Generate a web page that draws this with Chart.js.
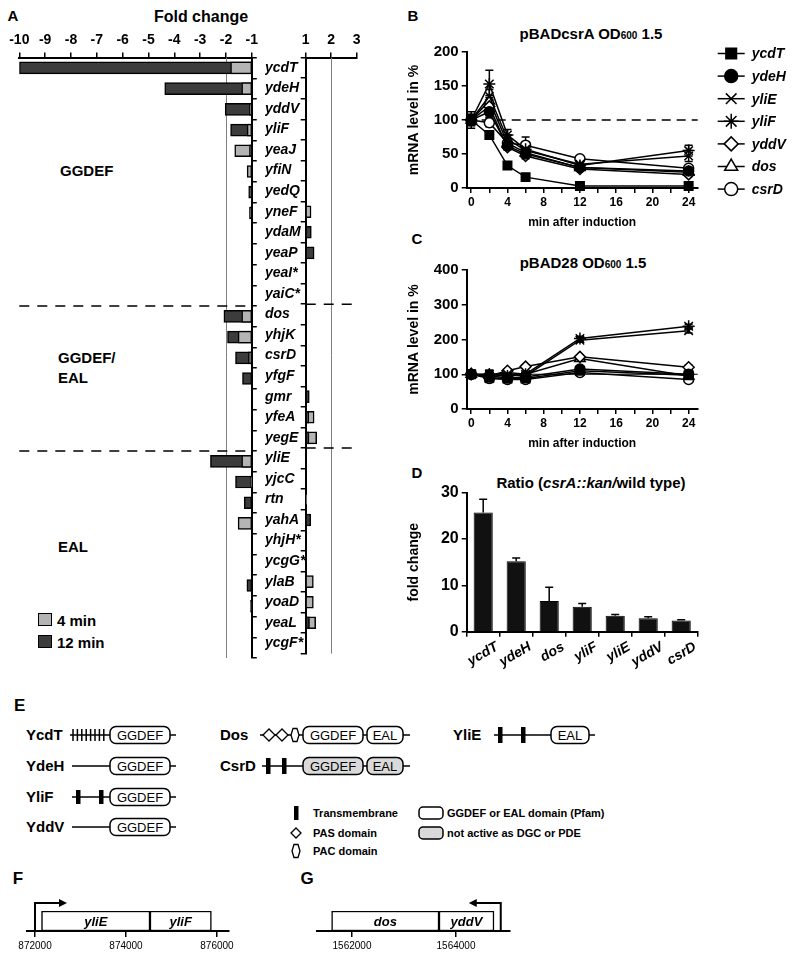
<!DOCTYPE html>
<html>
<head>
<meta charset="utf-8">
<title>Diguanylate cyclase / phosphodiesterase genes and CsrA</title>
<script src="https://cdn.jsdelivr.net/npm/chart.js@4.4.1/dist/chart.umd.min.js"></script>
<style>
  html, body { margin: 0; padding: 0; background: #fff; }
  body { width: 800px; height: 966px; position: relative; overflow: hidden;
         font-family: 'Liberation Sans', Arial, sans-serif; color: #000; }
  canvas { position: absolute; }
  .t { position: absolute; font-weight: bold; white-space: nowrap; line-height: 1; }
  .c { transform: translate(-50%, -50%); }
  .l { transform: translateY(-50%); }
  .narrow { font-family: 'Liberation Sans Narrow', 'Liberation Sans', Arial, sans-serif; }
  .sw { position: absolute; width: 12px; height: 11px; border: 1.5px solid #000; }
  svg { position: absolute; left: 0; top: 690px; }
</style>
</head>
<body>

<div class="t c" style="left:13px;top:15px;font-size:15px">A</div>
<div class="t c" style="left:201px;top:17px;font-size:16px">Fold change</div>
<div class="t l" style="left:60px;top:170px;font-size:15px">GGDEF</div>
<div class="t l" style="left:58px;top:357px;font-size:15px">GGDEF/</div>
<div class="t l" style="left:58px;top:377px;font-size:15px">EAL</div>
<div class="t l" style="left:58px;top:546px;font-size:15px">EAL</div>
<div class="sw" style="left:38px;top:613px;background:#b4b4b4"></div>
<div class="sw" style="left:38px;top:635px;background:#3c3c3c"></div>
<div class="t l" style="left:57px;top:620px;font-size:15px">4 min</div>
<div class="t l" style="left:57px;top:642px;font-size:15px">12 min</div>

<div class="t c" style="left:413px;top:15px;font-size:15px">B</div>
<div class="t c" style="left:591px;top:33px;font-size:15px">pBADcsrA OD<span style="font-size:10px">600</span> 1.5</div>
<div class="t c" style="left:417px;top:238px;font-size:15px">C</div>
<div class="t c" style="left:583px;top:262px;font-size:15px">pBAD28 OD<span style="font-size:10px">600</span> 1.5</div>
<div class="t c" style="left:417px;top:472px;font-size:15px">D</div>
<div class="t c" style="left:591px;top:482px;font-size:15px">Ratio (<i>csrA::kan/</i>wild type)</div>

<div class="t c narrow" style="left:18px;top:878px;font-size:17px">F</div>
<div class="t c narrow" style="left:307px;top:878px;font-size:17px">G</div>

<script>
// ---------- A: fold change after csrA induction (4 and 12 min)
const genes = ['ycdT', 'ydeH', 'yddV', 'yliF', 'yeaJ', 'yfiN', 'yedQ', 'yneF', 'ydaM', 'yeaP', 'yeaI*', 'yaiC*',
  'dos', 'yhjK', 'csrD', 'yfgF', 'gmr', 'yfeA', 'yegE',
  'yliE', 'yjcC', 'rtn', 'yahA', 'yhjH*', 'ycgG*', 'ylaB', 'yoaD', 'yeaL', 'ycgF*'];
const fold4min = [-1.82, -1.39, -1.09, -1.18, -1.66, -1.18, null, 1.21, null, null, null, null,
  -1.39, -1.53, -1.13, null, null, 1.33, 1.43,
  -1.39, -1.03, 1.04, -1.53, null, null, 1.3, 1.3, 1.39, null];
const fold12min = [-10, -4.37, -2.03, -1.82, -1.09, null, -1.12, -1.09, 1.22, 1.33, null, null,
  -2.08, -1.94, -1.63, -1.36, 1.14, 1.12, 1.13,
  -2.6, -1.63, -1.29, 1.2, null, null, -1.19, -1.05, 1.15, null];
const groupStarts = [12, 19]; // first gene of GGDEF/EAL and of EAL groups

// ---------- B / C: mRNA level (%) after induction
const minutes = [0, 2, 4, 6, 12, 24];
const seriesNames = ['ycdT', 'ydeH', 'yliE', 'yliF', 'yddV', 'dos', 'csrD'];
const csrA_ycdT = [100, 78, 33, 16, 3, 3];
const csrA_ydeH = [100, 112, 62, 50, 30, 25];
const csrA_yliE = [100, 135, 72, 55, 35, 47];
const csrA_yliF = [100, 153, 78, 57, 33, 55];
const csrA_yddV = [100, 120, 60, 47, 28, 20];
const csrA_dos = [100, 128, 66, 52, 30, 23];
const csrA_csrD = [100, 96, 66, 63, 43, 29];
const csrA_err_ycdT = [6, 5, 3, 2, 1, 1];
const csrA_err_ydeH = [8, 8, 5, 4, 3, 3];
const csrA_err_yliE = [8, 10, 6, 5, 4, 8];
const csrA_err_yliF = [12, 20, 8, 6, 4, 8];
const csrA_err_yddV = [6, 6, 4, 4, 3, 3];
const csrA_err_dos = [6, 8, 4, 4, 3, 3];
const csrA_err_csrD = [8, 6, 5, 12, 3, 4];
const ctrl_ycdT = [100, 90, 88, 88, 110, 97];
const ctrl_ydeH = [100, 95, 90, 92, 115, 100];
const ctrl_yliE = [100, 92, 100, 95, 198, 225];
const ctrl_yliF = [100, 100, 95, 100, 203, 238];
const ctrl_yddV = [100, 95, 110, 122, 150, 120];
const ctrl_dos = [100, 97, 105, 100, 145, 95];
const ctrl_csrD = [100, 88, 85, 85, 105, 85];
const ctrl_err = [8, 12, 6, 5, 6, 6];

// ---------- D: ratio csrA::kan / wild type
const ratioGenes = ['ycdT', 'ydeH', 'dos', 'yliF', 'yliE', 'yddV', 'csrD'];
const ratioFold = [25.7, 15.2, 6.6, 5.4, 3.45, 2.9, 2.4];
const ratioErr = [2.9, 0.7, 3.0, 0.7, 0.25, 0.35, 0.2];

// ---------- F / G: genomic context
const yliGenes = ['yliE', 'yliF'];
const yliStart = [872143, 874527];
const yliEnd = [874527, 875877];
const yliPromoter = 872000;
const yliTicks = [872000, 874000, 876000];
const dosGenes = ['dos', 'yddV'];
const dosStart = [1561608, 1563673];
const dosEnd = [1563673, 1564730];
const dosPromoter = 1564860;
const dosTicks = [1562000, 1564000];

const LIGHT = '#b4b4b4', DARK = '#3c3c3c';
const FONT = "'Liberation Sans', Arial, sans-serif";
const NARROW = "'Liberation Sans Narrow', 'Liberation Sans', Arial, sans-serif";
Chart.defaults.font.family = FONT;
Chart.defaults.font.weight = 'bold';
Chart.defaults.color = '#000';

function mkCanvas(left, top, w, h) {
  const c = document.createElement('canvas');
  c.width = w; c.height = h;
  c.style.left = left + 'px'; c.style.top = top + 'px';
  document.body.appendChild(c);
  return c;
}

const tickGrid = (offset) => ({ drawOnChartArea: false, drawTicks: true, tickLength: 5, color: '#000', lineWidth: 1.5, offset });
const axisBorder = { color: '#000', width: 2 };

// overlapping bars: larger change behind, smaller one in front
function layered(sign) {
  const back = [], front = [], backC = [], frontC = [];
  genes.forEach((g, i) => {
    const vals = [[fold4min[i], LIGHT], [fold12min[i], DARK]]
      .filter(([v]) => v != null && Math.sign(v) === sign)
      .sort((a, b) => Math.abs(b[0]) - Math.abs(a[0]));
    back.push(vals[0] ? [sign, vals[0][0]] : null);
    backC.push(vals[0] ? vals[0][1] : LIGHT);
    front.push(vals[1] ? [sign, vals[1][0]] : null);
    frontC.push(vals[1] ? vals[1][1] : LIGHT);
  });
  return [
    { data: front, backgroundColor: frontC, order: 0 },
    { data: back, backgroundColor: backC, order: 1 },
  ].map(d => Object.assign(d, { borderColor: '#000', borderWidth: 1.5, borderSkipped: false, barThickness: 12, grouped: false }));
}

const foldGuides = {
  id: 'foldGuides',
  beforeDatasetsDraw(chart, args, opts) {
    const { ctx, chartArea: a, scales: { x, y } } = chart;
    ctx.save();
    ctx.strokeStyle = '#808080'; ctx.lineWidth = 1;
    const gx = Math.round(x.getPixelForValue(opts.at)) + 0.5;
    ctx.beginPath(); ctx.moveTo(gx, a.top); ctx.lineTo(gx, a.bottom); ctx.stroke();
    ctx.strokeStyle = '#000'; ctx.lineWidth = 1.5; ctx.setLineDash([10, 8]);
    groupStarts.forEach(i => {
      const py = (y.getPixelForValue(i - 1) + y.getPixelForValue(i)) / 2;
      ctx.beginPath(); ctx.moveTo(a.left, py); ctx.lineTo(a.right, py); ctx.stroke();
    });
    ctx.restore();
  }
};

function foldChart(canvas, sign, xmin, xmax, pad, yAxis) {
  return new Chart(canvas, {
    type: 'bar',
    data: { labels: genes, datasets: layered(sign) },
    options: {
      indexAxis: 'y', responsive: false, animation: false,
      layout: { padding: pad },
      plugins: { legend: { display: false }, tooltip: { enabled: false }, foldGuides: { at: 2 * sign } },
      scales: {
        x: { position: 'top', min: xmin, max: xmax,
             ticks: { stepSize: 1, includeBounds: false, padding: 4, maxRotation: 0, autoSkip: false, font: { size: 14 } },
             grid: tickGrid(false), border: axisBorder, afterFit: s => { s.height = 37.6; } },
        y: yAxis
      }
    },
    plugins: [foldGuides]
  });
}

foldChart(mkCanvas(0, 20, 262, 645), -1, -10, -1, { left: 19.3, top: 0, right: 0, bottom: 7 },
  { position: 'right', ticks: { display: false }, grid: tickGrid(true), border: axisBorder,
    afterFit: s => { s.width = 9.7; } });
foldChart(mkCanvas(262, 20, 110, 645), 1, 1, 3, { left: 3, top: 0, right: 15.3, bottom: 7 },
  { position: 'left', ticks: { crossAlign: 'far', autoSkip: false, font: { size: 14, style: 'italic' } },
    grid: tickGrid(true), border: axisBorder, afterFit: s => { s.width = 40.7; } });

// ---------- line panels
const markers = [
  { style: 'rect', r: 6, fill: '#000' },
  { style: 'circle', r: 5, fill: '#000' },
  { style: 'crossRot', r: 6, fill: '#000' },
  { style: 'star', r: 6, fill: '#000' },
  { style: 'rectRot', r: 5.5, fill: '#fff' },
  { style: 'triangle', r: 6, fill: '#fff' },
  { style: 'circle', r: 5, fill: '#fff' },
];

function lineSets(series, errs) {
  return seriesNames.map((name, k) => ({
    label: name,
    data: minutes.map((t, i) => ({ x: t, y: series[k][i] })),
    errors: errs[k],
    borderColor: '#000', borderWidth: 1.5, tension: 0,
    pointStyle: markers[k].style, pointRadius: markers[k].r,
    pointBackgroundColor: markers[k].fill, pointBorderColor: '#000', pointBorderWidth: 1.5,
    clip: false
  }));
}

function drawErrors(chart, opts) {
  const { ctx } = chart, y = chart.scales.y;
  ctx.save(); ctx.strokeStyle = '#000'; ctx.lineWidth = 1.5;
  chart.data.datasets.forEach((ds, k) => {
    if (!ds.errors) return;
    chart.getDatasetMeta(k).data.forEach((el, i) => {
      const e = ds.errors[i];
      if (!e) return;
      const v = typeof ds.data[i] === 'object' ? ds.data[i].y : ds.data[i];
      const top = y.getPixelForValue(v + e);
      const bot = opts.upOnly ? el.y : y.getPixelForValue(v - e);
      ctx.beginPath();
      ctx.moveTo(el.x, top); ctx.lineTo(el.x, bot);
      ctx.moveTo(el.x - opts.cap, top); ctx.lineTo(el.x + opts.cap, top);
      if (!opts.upOnly) { ctx.moveTo(el.x - opts.cap, bot); ctx.lineTo(el.x + opts.cap, bot); }
      ctx.stroke();
    });
  });
  ctx.restore();
}

const errorBars = {
  id: 'errorBars',
  beforeDatasetsDraw(chart, args, opts) { if (!opts.above) drawErrors(chart, opts); },
  afterDatasetsDraw(chart, args, opts) { if (opts.above) drawErrors(chart, opts); }
};

const refLine = {
  id: 'refLine',
  beforeDatasetsDraw(chart, args, opts) {
    const { ctx, chartArea: a, scales: { y } } = chart;
    const py = y.getPixelForValue(opts.value);
    ctx.save();
    ctx.strokeStyle = '#000'; ctx.lineWidth = opts.width; ctx.setLineDash(opts.dash);
    ctx.beginPath(); ctx.moveTo(a.left, py); ctx.lineTo(a.right, py); ctx.stroke();
    ctx.restore();
  }
};

const seriesKey = {
  id: 'seriesKey',
  afterDraw(chart, args, opts) {
    if (!opts.show) return;
    const { ctx, chartArea: a } = chart;
    ctx.save();
    chart.data.datasets.forEach((ds, k) => {
      const y = a.top + 1.5 + k * 22.6;
      const x0 = a.right + 20;
      ctx.strokeStyle = '#000'; ctx.lineWidth = 1.5;
      ctx.beginPath(); ctx.moveTo(x0, y); ctx.lineTo(x0 + 27, y); ctx.stroke();
      ctx.fillStyle = ds.pointBackgroundColor;
      Chart.helpers.drawPoint(ctx, { pointStyle: ds.pointStyle, radius: ds.pointRadius + 1.5, rotation: 0, borderWidth: 1.5 }, x0 + 13.5, y);
      ctx.fillStyle = '#000';
      ctx.font = "italic bold 14px " + FONT;
      ctx.textBaseline = 'middle';
      ctx.fillText(ds.label, x0 + 34, y + 1);
    });
    ctx.restore();
  }
};

function timeChart(canvas, series, errs, ymax, ystep, pad, ref, key) {
  return new Chart(canvas, {
    type: 'line',
    data: { datasets: lineSets(series, errs) },
    options: {
      responsive: false, animation: false,
      layout: { padding: pad },
      plugins: { legend: { display: false }, tooltip: { enabled: false },
                 errorBars: { cap: 4 }, refLine: ref, seriesKey: { show: key } },
      scales: {
        x: { type: 'linear', min: -0.5, max: 25,
             ticks: { stepSize: 2, includeBounds: false, maxRotation: 0, autoSkip: false, padding: 2,
                      callback: v => (v % 4 === 0 ? v : ''), font: { size: 12 } },
             grid: tickGrid(false), border: axisBorder,
             title: { display: true, text: 'min after induction', font: { size: 12 }, padding: { top: 3 } },
             afterFit: s => { s.height = 46; } },
        y: { min: 0, max: ymax,
             ticks: { stepSize: ystep, padding: 3, font: { size: 15 } },
             grid: tickGrid(false), border: axisBorder,
             title: { display: true, text: 'mRNA level in %', font: { size: 14 }, padding: { top: 2, bottom: 0 } },
             afterFit: s => { s.width = 62.7; } }
      }
    },
    plugins: [refLine, errorBars, seriesKey]
  });
}

timeChart(mkCanvas(400, 40, 400, 200),
  [csrA_ycdT, csrA_ydeH, csrA_yliE, csrA_yliF, csrA_yddV, csrA_dos, csrA_csrD],
  [csrA_err_ycdT, csrA_err_ydeH, csrA_err_yliE, csrA_err_yliF, csrA_err_yddV, csrA_err_dos, csrA_err_csrD],
  200, 50, { left: 4, top: 8, right: 102.3, bottom: 6 }, { value: 100, width: 1.5, dash: [9, 6] }, true);
timeChart(mkCanvas(400, 255, 400, 210),
  [ctrl_ycdT, ctrl_ydeH, ctrl_yliE, ctrl_yliF, ctrl_yddV, ctrl_dos, ctrl_csrD],
  seriesNames.map(() => ctrl_err),
  400, 100, { left: 4, top: 15, right: 102.3, bottom: 10 }, { value: 100, width: 1, dash: [] }, false);

// ---------- D bar chart
new Chart(mkCanvas(400, 470, 400, 210), {
  type: 'bar',
  data: { labels: ratioGenes, datasets: [{ data: ratioFold, errors: ratioErr, backgroundColor: '#111', borderColor: '#000',
          borderWidth: 1, barPercentage: 0.58, categoryPercentage: 1 }] },
  options: {
    responsive: false, animation: false,
    layout: { padding: { left: 4, top: 22.7, right: 102.3, bottom: 4.3 } },
    plugins: { legend: { display: false }, tooltip: { enabled: false }, errorBars: { cap: 4, upOnly: true, above: true } },
    scales: {
      x: { ticks: { minRotation: 30, maxRotation: 30, labelOffset: 14, padding: 2, autoSkip: false,
                    font: { size: 14, style: 'italic' } },
           grid: tickGrid(true), border: axisBorder, afterFit: s => { s.height = 44; } },
      y: { min: 0, max: 30, ticks: { stepSize: 10, padding: 3, font: { size: 16 } },
           grid: tickGrid(false), border: axisBorder,
           title: { display: true, text: 'fold change', font: { size: 14 }, padding: { top: 2, bottom: 0 } },
           afterFit: s => { s.width = 62.7; } }
    }
  },
  plugins: [errorBars]
});

// ---------- F / G genomic maps
const operonMarks = {
  id: 'operonMarks',
  afterDatasetsDraw(chart, args, opts) {
    const { ctx, chartArea: a, scales: { x } } = chart;
    ctx.save();
    ctx.fillStyle = '#000';
    ctx.font = "italic bold 13px " + FONT;
    ctx.textAlign = 'center'; ctx.textBaseline = 'middle';
    chart.data.datasets.forEach((ds, k) => {
      const el = chart.getDatasetMeta(k).data[0];
      ctx.fillText(ds.label, (el.x + el.base) / 2, el.y + 1);
    });
    const px = x.getPixelForValue(opts.promoter);
    const top = a.top - 8, tip = px + opts.dir * 32;
    ctx.strokeStyle = '#000'; ctx.lineWidth = 2;
    ctx.beginPath(); ctx.moveTo(px, a.bottom); ctx.lineTo(px, top); ctx.lineTo(tip - opts.dir * 6, top); ctx.stroke();
    ctx.beginPath(); ctx.moveTo(tip, top); ctx.lineTo(tip - opts.dir * 8, top - 4); ctx.lineTo(tip - opts.dir * 8, top + 4);
    ctx.closePath(); ctx.fill();
    ctx.restore();
  }
};

function operonChart(canvas, names, starts, ends, promoter, dir, tickValues, xmin, xmax, pad) {
  return new Chart(canvas, {
    type: 'bar',
    data: { labels: [''], datasets: names.map((n, i) => ({ label: n, data: [[starts[i], ends[i]]],
            backgroundColor: '#fff', borderColor: '#000', borderWidth: 1.5, borderSkipped: false,
            grouped: false, barPercentage: 1, categoryPercentage: 1 })) },
    options: {
      indexAxis: 'y', responsive: false, animation: false,
      layout: { padding: pad },
      plugins: { legend: { display: false }, tooltip: { enabled: false }, operonMarks: { promoter, dir } },
      scales: {
        x: { type: 'linear', min: xmin, max: xmax,
             afterBuildTicks: s => { s.ticks = tickValues.map(v => ({ value: v })); },
             ticks: { maxRotation: 0, autoSkip: false, padding: 3,
                      callback: v => String(v), font: { size: 10, weight: 'normal', family: NARROW } },
             grid: { drawOnChartArea: false, tickLength: 6, color: '#000', lineWidth: 1.5 }, border: axisBorder,
             afterFit: s => { s.height = 29; } },
        y: { display: false }
      }
    },
    plugins: [operonMarks]
  });
}

operonChart(mkCanvas(0, 885, 250, 75), yliGenes, yliStart, yliEnd, yliPromoter, 1, yliTicks, 871824, 876264,
  { left: 27, top: 26, right: 21, bottom: 0 });
operonChart(mkCanvas(290, 885, 235, 75), dosGenes, dosStart, dosEnd, dosPromoter, -1, dosTicks, 1561327, 1565038,
  { left: 27, top: 26, right: 15, bottom: 0 });

// ---------- E: domain architecture (schematic)
let s = '';
const text = (x, y, t, size, extra) => { s += `<text x="${x}" y="${y}" font-size="${size}" ${extra || ''}>${t}</text>`; };
const seg = (x1, x2, cy) => { s += `<line x1="${x1}" y1="${cy}" x2="${x2}" y2="${cy}" stroke="#000" stroke-width="1.5"/>`; };
const tm = (x, cy, h) => { s += `<rect x="${x - 2}" y="${cy - h / 2}" width="4.5" height="${h}" fill="#000"/>`; };
const dom = (label, x, w, cy, fill) => {
  s += `<rect x="${x}" y="${cy - 8.5}" width="${w}" height="17" rx="6" fill="${fill}" stroke="#000" stroke-width="1.5"/>`;
  text(x + w / 2, cy + 4.5, label, 13, 'text-anchor="middle" font-weight="normal"');
};
const diamond = (cx, cy, r) => { s += `<polygon points="${cx - r},${cy} ${cx},${cy - r} ${cx + r},${cy} ${cx},${cy + r}" fill="#fff" stroke="#000" stroke-width="1.3"/>`; };
const hexagon = (cx, cy) => { s += `<polygon points="${cx - 2},${cy - 6.5} ${cx + 2},${cy - 6.5} ${cx + 4},${cy} ${cx + 2},${cy + 6.5} ${cx - 2},${cy + 6.5} ${cx - 4},${cy}" fill="#fff" stroke="#000" stroke-width="1.3"/>`; };

text(14, 21, 'E', 17);
// YcdT
text(26, 50, 'YcdT', 15); seg(70, 110, 45);
for (let i = 0; i < 8; i++) s += `<line x1="${73 + i * 4.4}" y1="39" x2="${73 + i * 4.4}" y2="51" stroke="#000" stroke-width="1.5"/>`;
dom('GGDEF', 110, 60, 45, '#fff'); seg(170, 176, 45);
// YdeH
text(26, 81, 'YdeH', 15); seg(72, 110, 76); dom('GGDEF', 110, 60, 76, '#fff'); seg(170, 176, 76);
// YliF
text(26, 112, 'YliF', 15); seg(72, 110, 107); tm(78, 107, 14); tm(101, 107, 14); dom('GGDEF', 110, 60, 107, '#fff'); seg(170, 176, 107);
// YddV
text(26, 142, 'YddV', 15); seg(72, 110, 137); dom('GGDEF', 110, 60, 137, '#fff'); seg(170, 176, 137);
// Dos
text(220, 50, 'Dos', 15); seg(260, 303, 45); diamond(269, 45, 6); diamond(282, 45, 6); hexagon(295, 45);
dom('GGDEF', 303, 60, 45, '#fff'); seg(363, 367, 45); dom('EAL', 367, 36, 45, '#fff'); seg(403, 410, 45);
// CsrD
text(220, 81, 'CsrD', 15); seg(262, 303, 76); tm(268, 76, 16); tm(284, 76, 16);
dom('GGDEF', 303, 60, 76, '#d9d9d9'); seg(363, 367, 76); dom('EAL', 367, 36, 76, '#d9d9d9'); seg(403, 410, 76);
// YliE
text(453, 50, 'YliE', 15); seg(494, 551, 45); tm(500, 45, 16); tm(523, 45, 16); dom('EAL', 551, 38, 45, '#fff'); seg(589, 595, 45);
// key
tm(296, 123, 14); text(313, 127, 'Transmembrane', 11);
diamond(296, 143, 5); text(313, 147, 'PAS domain', 11);
hexagon(296, 161); text(313, 165, 'PAC domain', 11);
s += `<rect x="419" y="117" width="24" height="12" rx="4" fill="#fff" stroke="#000" stroke-width="1.5"/>`;
text(447, 127, 'GGDEF or EAL domain (Pfam)', 11);
s += `<rect x="419" y="137" width="24" height="12" rx="4" fill="#d9d9d9" stroke="#000" stroke-width="1.5"/>`;
text(447, 147, 'not active as DGC or PDE', 11);

document.body.insertAdjacentHTML('beforeend',
  `<svg width="800" height="185" font-family="${NARROW.replace(/"/g, '')}" font-weight="bold">${s}</svg>`);
</script>
</body>
</html>
